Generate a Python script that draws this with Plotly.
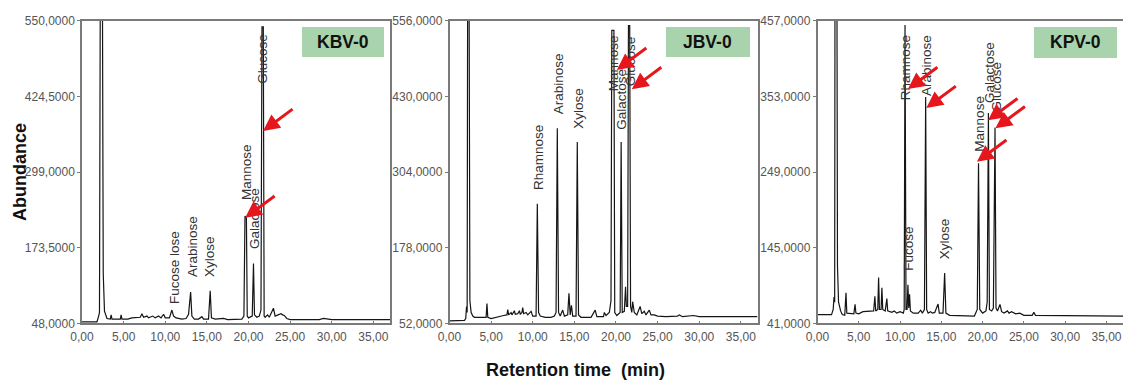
import plotly.graph_objects as go

W, H = 1123, 383

# ---------------- data ----------------
kbv_time = [0.0, 1.8, 2.0, 2.1, 2.2, 2.45, 2.55, 2.7, 3.0, 3.4, 3.5, 3.6, 4.6, 4.7, 4.8, 5.5, 6.0, 6.5,
            7.0, 7.2, 7.4, 7.8, 8.0, 8.5, 8.8, 9.2, 9.5, 9.8, 10.0, 10.5, 10.8, 11.0, 11.3, 12.0, 12.5,
            12.8, 13.05, 13.2, 13.5, 14.0, 14.4, 14.6, 15.2, 15.4, 15.55, 16.0, 17.0, 17.5, 18.5, 19.2,
            19.45, 19.58, 19.75, 19.85, 20.0, 20.45, 20.6, 20.72, 21.0, 21.3, 21.5, 21.62, 21.78, 21.88,
            22.0, 22.3, 22.5, 23.0, 23.2, 23.6, 23.9, 24.1, 24.3, 24.6, 25.0, 27.0, 28.5, 29.0, 29.5,
            30.0, 32.0, 35.0, 37.0]
kbv_abund = [50.5, 50.5, 60, 66, 620, 620, 131, 68, 56, 55, 62, 55, 55, 62, 55, 55, 57, 58,
             58, 64, 58, 60, 57, 60, 57, 60, 57, 63, 57, 57, 70, 60, 57, 55, 56,
             63, 100, 60, 55, 55, 59, 55, 55, 102, 57, 55, 56, 54, 54, 55,
             60, 226, 222, 60, 57, 60, 147, 62, 58, 60, 70, 540, 540, 60,
             58, 62, 58, 73, 60, 62, 64, 62, 61, 56, 54, 54, 54, 56, 55,
             54, 54, 54, 54]

jbv_time = [0.0, 1.8, 1.95, 2.05, 2.12, 2.18, 2.35, 2.45, 2.6, 2.8, 3.0, 3.5, 4.4, 4.5, 4.6, 5.0, 5.5,
            6.0, 6.5, 6.9, 7.0, 7.1, 7.4, 7.5, 7.8, 7.9, 8.2, 8.4, 8.5, 8.7, 8.8, 8.9, 9.2, 9.4, 9.8,
            10.0, 10.4, 10.55, 10.7, 10.9, 11.5, 12.2, 12.6, 12.8, 12.95, 13.1, 13.3, 13.6, 13.8, 14.2,
            14.35, 14.5, 14.65, 14.8, 15.2, 15.35, 15.5, 15.8, 16.5, 17.0, 17.5, 17.7, 18.5, 18.6, 18.8,
            19.2, 19.4, 19.5, 19.75, 19.85, 20.1, 20.5, 20.62, 20.75, 21.0, 21.15, 21.25, 21.4, 21.5,
            21.65, 21.75, 21.9, 22.0, 22.2, 22.5, 22.9, 23.1, 23.4, 23.6, 24.0, 24.2, 24.6, 25.0, 26.0,
            27.4, 27.6, 28.0, 29.0, 29.3, 30.0, 32.0, 35.0, 37.0]
jbv_abund = [56, 57, 60, 80, 70, 620, 620, 90, 70, 64, 62, 62, 62, 85, 62, 60, 62,
             63, 65, 66, 75, 66, 70, 66, 73, 67, 68, 73, 67, 70, 78, 68, 70, 66, 72,
             64, 64, 251, 70, 64, 62, 62, 64, 70, 377, 70, 64, 74, 64, 66,
             102, 66, 82, 64, 64, 354, 66, 62, 62, 62, 74, 63, 63, 70, 65,
             70, 90, 540, 540, 70, 65, 70, 354, 70, 72, 113, 80, 80, 548,
             548, 80, 70, 88, 70, 66, 80, 68, 72, 66, 74, 66, 66, 64, 63,
             64, 66, 63, 64, 65, 63, 63, 63, 63]

kpv_time = [0.0, 1.7, 1.9, 2.0, 2.08, 2.12, 2.35, 2.42, 2.55, 2.8, 3.0, 3.3, 3.45, 3.55, 4.4, 4.55, 4.65,
            5.0, 5.5, 6.5, 6.8, 6.95, 7.05, 7.3, 7.4, 7.5, 7.7, 7.8, 7.9, 8.2, 8.4, 8.5, 9.0, 9.3, 9.6,
            10.0, 10.4, 10.5, 10.6, 10.72, 10.85, 10.95, 11.05, 11.15, 11.25, 11.6, 12.2, 12.5, 12.7,
            12.95, 13.1, 13.22, 13.4, 13.7, 13.9, 14.2, 14.6, 14.75, 15.2, 15.4, 15.55, 16.0, 17.0, 18.0,
            19.0, 19.35, 19.5, 19.65, 20.0, 20.4, 20.55, 20.7, 20.82, 21.1, 21.3, 21.5, 21.62, 21.8, 22.1,
            22.3, 22.6, 23.0, 23.2, 23.5, 24.0, 24.5, 25.0, 26.0, 26.2, 26.4, 28.0, 30.0, 33.0, 37.0]
kpv_abund = [53, 53, 60, 77, 70, 520, 520, 120, 70, 58, 53, 52, 83, 55, 54, 67, 55,
             54, 57, 57, 58, 78, 58, 60, 104, 60, 60, 90, 60, 58, 75, 58, 56, 58, 55,
             57, 55, 60, 451, 60, 60, 94, 62, 81, 58, 55, 55, 59, 55,
             60, 352, 60, 55, 57, 55, 56, 67.5, 55, 55, 110, 55, 52, 52, 51,
             51, 60, 261, 60, 55, 58, 70, 330, 60, 58, 62, 310, 62, 58, 67,
             57, 55, 58, 55, 57, 54, 55, 52, 52, 56, 52, 52, 51, 51, 51]

x_ticks = [0, 5, 10, 15, 20, 25, 30, 35]
kbv_yticks = [48, 173.5, 299, 424.5, 550]
jbv_yticks = [52, 178, 304, 430, 556]
kpv_yticks = [41, 145, 249, 353, 457]

panel_names = ["KBV-0", "JBV-0", "KPV-0"]

kbv_peaks = ["Fucose lose", "Arabinose", "Xylose", "Mannose", "Galactose", "Glucose"]
kbv_peak_t = [11.18, 13.19, 15.38, 19.71, 20.67, 21.75]
kbv_peak_y = [140, 176, 158, 299, 221, 487]

jbv_peaks = ["Rhamnose", "Arabinose", "Xylose", "Mannose", "Galactose", "Glucose"]
jbv_peak_t = [10.68, 13.09, 15.49, 19.69, 20.65, 21.85]
jbv_peak_y = [328, 451, 410, 486, 425, 489]

kpv_peaks = ["Rhamnose", "Arabinose", "Fucose", "Xylose", "Mannose", "Galactose", "Glucose"]
kpv_peak_t = [10.75, 13.18, 11.03, 15.48, 19.64, 20.85, 21.66]
kpv_peak_y = [392, 395, 143, 157, 315, 386, 367]

# arrow tips (retention time, abundance)
kbv_arrow_t = [21.75, 19.6]
kbv_arrow_y = [367, 223]
jbv_arrow_t = [20.1, 21.9]
jbv_arrow_y = [474, 442]
kpv_arrow_t = [10.95, 13.18, 20.65, 21.55, 19.31]
kpv_arrow_y = [363, 337, 320, 309, 263]

# ---------------- layout helpers ----------------
def pxx(p):
    return p / W

def pxy(p):
    return 1 - p / H

def fmt(v, d):
    return f"{v:.{d}f}".replace(".", ",")

x_domains = [[pxx(82), pxx(390)], [pxx(449.5), pxx(757.5)], [pxx(817.5), 1.0]]
y_domain = [pxy(323.3), pxy(20.7)]
boxes = [(302, 384, 27, 57), (666, 750, 27, 57), (1034, 1117, 27, 58)]

series = [
    (kbv_time, kbv_abund, kbv_yticks, kbv_peaks, kbv_peak_t, kbv_peak_y, kbv_arrow_t, kbv_arrow_y),
    (jbv_time, jbv_abund, jbv_yticks, jbv_peaks, jbv_peak_t, jbv_peak_y, jbv_arrow_t, jbv_arrow_y),
    (kpv_time, kpv_abund, kpv_yticks, kpv_peaks, kpv_peak_t, kpv_peak_y, kpv_arrow_t, kpv_arrow_y),
]

tick_font = dict(family="Liberation Sans, Arial", size=12, color="#555555")
frame = "#7a7a7a"

fig = go.Figure()
annotations = []
shapes = []
layout = dict(
    width=W, height=H,
    margin=dict(l=0, r=0, t=0, b=0, autoexpand=False),
    paper_bgcolor="white", plot_bgcolor="white",
    showlegend=False,
)

for i, (tt, aa, yt, pk, pkt, pky, art, ary) in enumerate(series):
    n = "" if i == 0 else str(i + 1)
    xa = "x" + n
    ya = "y" + n
    fig.add_trace(go.Scatter(x=tt, y=aa, mode="lines", xaxis=xa, yaxis=ya,
                             line=dict(color="#151515", width=1.2), hoverinfo="skip"))
    layout["xaxis" + n] = dict(
        domain=x_domains[i], range=[0, 37], anchor=ya, automargin=False,
        tickvals=x_ticks, ticktext=[fmt(v, 2) for v in x_ticks],
        ticks="inside", ticklen=3, tickcolor=frame, tickfont=tick_font, ticklabelstandoff=2,
        showline=True, linecolor=frame, linewidth=1.5, mirror=True,
        showgrid=False, zeroline=False, fixedrange=True,
    )
    layout["yaxis" + n] = dict(
        domain=y_domain, range=[yt[0], yt[-1]], anchor=xa, automargin=False,
        tickvals=yt, ticktext=[fmt(v, 4) for v in yt],
        ticks="outside", ticklen=3, tickcolor=frame, tickfont=tick_font,
        showline=True, linecolor=frame, linewidth=1.5, mirror=True,
        showgrid=False, zeroline=False, fixedrange=True,
    )
    for name, t, y in zip(pk, pkt, pky):
        annotations.append(dict(
            x=t, y=y, xref=xa, yref=ya, text=name, textangle=-90, showarrow=False,
            xanchor="center", yanchor="middle",
            font=dict(family="Liberation Sans, Arial", size=13.5, color="#333333"),
        ))
    for t, y in zip(art, ary):
        annotations.append(dict(
            x=t, y=y, xref=xa, yref=ya, text="", showarrow=True,
            ax=31, ay=-23, arrowhead=2, arrowsize=1.1, arrowwidth=3, arrowcolor="#e5161c",
            standoff=0,
        ))
    x0, x1, y0, y1 = boxes[i]
    shapes.append(dict(type="rect", xref="paper", yref="paper",
                       x0=pxx(x0), x1=pxx(x1), y0=pxy(y1), y1=pxy(y0),
                       fillcolor="#a9d3ad", line=dict(width=0), layer="above"))
    annotations.append(dict(
        x=pxx((x0 + x1) / 2), y=pxy((y0 + y1) / 2), xref="paper", yref="paper",
        text="<b>" + panel_names[i] + "</b>", showarrow=False,
        xanchor="center", yanchor="middle",
        font=dict(family="Liberation Sans, Arial", size=17.5, color="#111111"),
    ))

annotations.append(dict(
    x=pxx(20), y=pxy(172), xref="paper", yref="paper", text="<b>Abundance</b>",
    textangle=-90, showarrow=False, xanchor="center", yanchor="middle",
    font=dict(family="Liberation Sans, Arial", size=18, color="#111111"),
))
annotations.append(dict(
    x=pxx(575), y=pxy(370), xref="paper", yref="paper", text="<b>Retention time  (min)</b>",
    showarrow=False, xanchor="center", yanchor="middle",
    font=dict(family="Liberation Sans, Arial", size=18, color="#111111"),
))

layout["annotations"] = annotations
layout["shapes"] = shapes
fig.update_layout(**layout)
fig.write_html("out.html")
